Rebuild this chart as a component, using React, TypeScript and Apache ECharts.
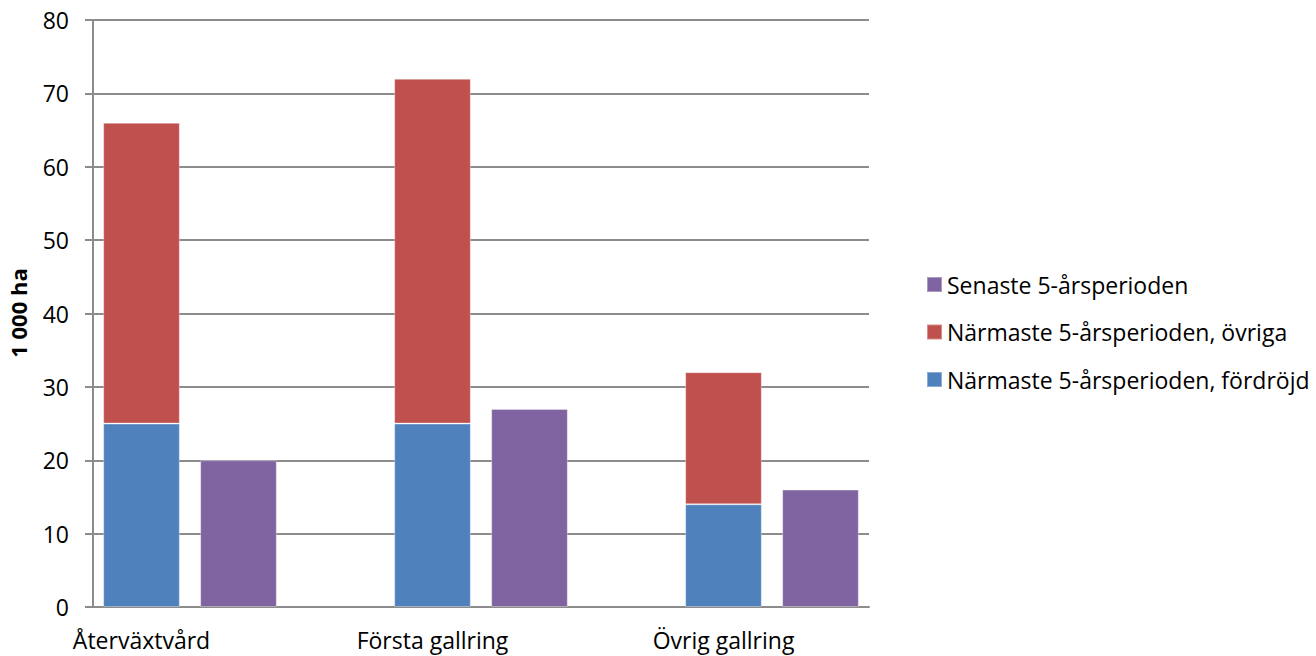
import React, { useEffect, useRef } from "react";
import * as echarts from "echarts";

const categories = ["Återväxtvård", "", "", "Första gallring", "", "", "Övrig gallring", ""];
const fordrojd = [25, null, null, 25, null, null, 14, null];
const ovriga = [41, null, null, 47, null, null, 18, null];
const senaste = [null, 20, null, null, 27, null, null, 16];
const yTicks = { min: 0, max: 80, interval: 10 };
const yTitle = "1 000 ha";

const FONT = "'Open Sans', sans-serif";

export default function App() {
  const ref = useRef<HTMLDivElement>(null);
  useEffect(() => {
    if (!ref.current) return;
    const chart = echarts.init(ref.current, undefined, { renderer: "svg" });
    const barStyle = (color: string) => ({
      color,
      borderColor: "rgba(255,255,255,0.35)",
      borderWidth: 1,
    });
    chart.setOption({
      animation: false,
      textStyle: { fontFamily: FONT },
      grid: { left: 93, right: 447, top: 20, bottom: 49, containLabel: false },
      graphic: [
        {
          type: "text",
          x: 18,
          y: 313,
          rotation: Math.PI / 2,
          style: {
            text: yTitle,
            fontSize: 22,
            fontWeight: "bold",
            fontFamily: FONT,
            fill: "#000",
            align: "center",
            verticalAlign: "middle",
          },
        },
      ],
      legend: {
        orient: "vertical",
        left: 921,
        top: 268,
        itemWidth: 15,
        itemHeight: 15,
        itemGap: 24.5,
        icon: "rect",
        textStyle: { fontSize: 23, lineHeight: 20, color: "#000", fontFamily: FONT },
        data: [
          "Senaste 5-årsperioden",
          "Närmaste 5-årsperioden, övriga",
          "Närmaste 5-årsperioden, fördröjd",
        ],
      },
      xAxis: {
        type: "category",
        data: categories,
        axisLine: { lineStyle: { color: "#8c8c8c", width: 2 } },
        axisTick: { show: false },
        axisLabel: { interval: 0, fontSize: 23, color: "#000", margin: 21, fontFamily: FONT },
      },
      yAxis: {
        type: "value",
        min: yTicks.min,
        max: yTicks.max,
        interval: yTicks.interval,
        axisLine: { show: true, lineStyle: { color: "#8c8c8c", width: 2 } },
        axisTick: { show: true, length: 8, inside: false, lineStyle: { color: "#8c8c8c", width: 2 } },
        axisLabel: { fontSize: 23, color: "#000", margin: 24, fontFamily: FONT },
        splitLine: { show: true, lineStyle: { color: "#8c8c8c", width: 2 } },
      },
      series: [
        {
          name: "Närmaste 5-årsperioden, fördröjd",
          type: "bar",
          stack: "s",
          data: fordrojd,
          barCategoryGap: "21%",
          itemStyle: barStyle("#4F81BD"),
        },
        {
          name: "Närmaste 5-årsperioden, övriga",
          type: "bar",
          stack: "s",
          data: ovriga,
          barCategoryGap: "21%",
          itemStyle: barStyle("#C0504D"),
        },
        {
          name: "Senaste 5-årsperioden",
          type: "bar",
          stack: "s",
          data: senaste,
          barCategoryGap: "21%",
          itemStyle: barStyle("#8064A2"),
        },
      ],
    });
    return () => chart.dispose();
  }, []);
  return <div ref={ref} style={{ width: 1316, height: 656, position: "absolute", left: 0, top: 0 }} />;
}
